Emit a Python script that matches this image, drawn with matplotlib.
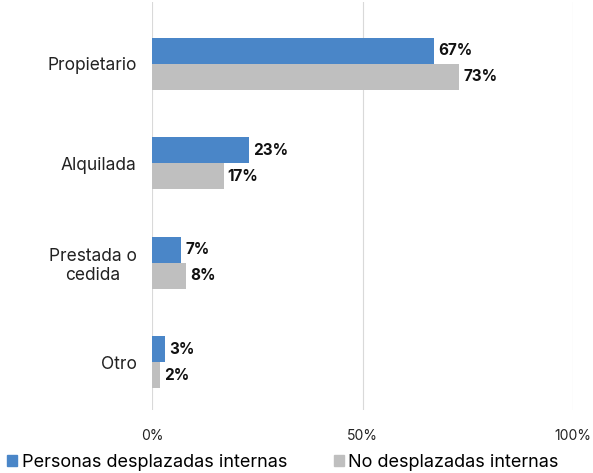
import matplotlib
matplotlib.use("Agg")
import matplotlib.pyplot as plt
from matplotlib.patches import Patch

categories = ["Propietario", "Alquilada", "Prestada o\ncedida", "Otro"]
desplazadas = [67, 23, 7, 3]
no_desplazadas = [73, 17, 8, 2]
series_names = ["Personas desplazadas internas", "No desplazadas internas"]
xticks = [0, 50, 100]
xticklabels = ["0%", "50%", "100%"]

blue = "#4A86C8"
grey = "#BFBFBF"
plt.rcParams['font.family'] = ['Inter', 'DejaVu Sans']

fig = plt.figure(figsize=(5.93, 4.73), dpi=100)
ax = fig.add_axes([152/593, 1 - 410/473, (573 - 152)/593, 408/473])

h = 0.26
ys = list(range(len(categories)))
b1 = ax.barh([y - h/2 for y in ys], desplazadas, height=h, color=blue)
b2 = ax.barh([y + h/2 for y in ys], no_desplazadas, height=h, color=grey)
for bars, vals in ((b1, desplazadas), (b2, no_desplazadas)):
    for bar, v in zip(bars, vals):
        ax.annotate(f"{v}%", (bar.get_width(), bar.get_y() + bar.get_height()/2),
                    xytext=(3, 0), textcoords="offset points", va="center", ha="left",
                    fontsize=11, fontweight="bold", color="#111111")

ax.set_xlim(0, 100)
ax.set_ylim(3.48, -0.62)
ax.set_xticks(xticks)
ax.set_xticklabels(xticklabels, fontsize=10, color="#222222")
ax.set_yticks(ys)
ax.set_yticklabels(categories, fontsize=12.5, color="#222222", multialignment="center")
ax.tick_params(axis="both", length=0)
ax.tick_params(axis="x", pad=14)
ax.tick_params(axis="y", pad=11)
ax.grid(axis="x", color="#D9D9D9", linewidth=0.8)
ax.set_axisbelow(True)
for s in ax.spines.values():
    s.set_visible(False)

handles = [Patch(color=blue), Patch(color=grey)]
fig.legend(handles, series_names, loc="center", bbox_to_anchor=(283/593, 1 - 462/473),
           ncol=2, frameon=False, fontsize=13, handlelength=0.55, handleheight=0.55,
           handletextpad=0.25, columnspacing=2.6, borderaxespad=0)

fig.savefig("out.png", dpi=100)
